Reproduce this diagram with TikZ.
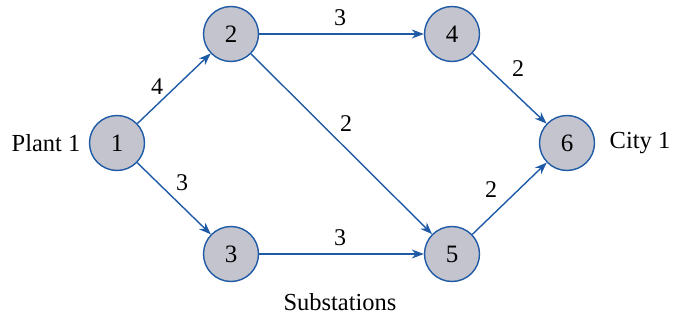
\documentclass[tikz,border=0pt]{standalone}
\usepackage{fontspec}
\setmainfont{Liberation Serif}
\usetikzlibrary{arrows.meta}
\definecolor{eblue}{HTML}{1F5AA6}
\definecolor{nfill}{HTML}{C4C4CE}
\begin{document}
\begin{tikzpicture}[x=1pt,y=-1pt,
  vtx/.style={circle,draw=eblue,line width=1.4pt,fill=nfill,minimum size=55pt,inner sep=0pt,font=\fontsize{25}{27}\selectfont},
  edge/.style={draw=eblue,line width=1.4pt,-{Stealth[length=12pt,width=9pt]}},
  lbl/.style={font=\fontsize{24}{26}\selectfont},
  txt/.style={font=\fontsize{24.5}{27}\selectfont}]
\useasboundingbox (0,0) rectangle (677,321);
\node[vtx] (n1) at (117,143) {1};
\node[vtx] (n2) at (231,34) {2};
\node[vtx] (n3) at (231,254) {3};
\node[vtx] (n4) at (452,34) {4};
\node[vtx] (n5) at (452,254) {5};
\node[vtx] (n6) at (567,143) {6};
\draw[edge] (n1) -- (n2);
\draw[edge] (n1) -- (n3);
\draw[edge] (n2) -- (n4);
\draw[edge] (n2) -- (n5);
\draw[edge] (n3) -- (n5);
\draw[edge] (n4) -- (n6);
\draw[edge] (n5) -- (n6);
\node[lbl] (l12) at (157,87) {4};
\node[lbl] (l13) at (182,183) {3};
\node[lbl] (l24) at (340,18) {3};
\node[lbl] (l25) at (346,124) {2};
\node[lbl] (l35) at (340,238) {3};
\node[lbl] (l46) at (518,69) {2};
\node[lbl] (l56) at (491,190) {2};
\node[txt] (plant) at (46,143) {Plant 1};
\node[txt] (city) at (640,143) {City 1};
\node[txt] (sub) at (340,302) {Substations};
\end{tikzpicture}
\end{document}
